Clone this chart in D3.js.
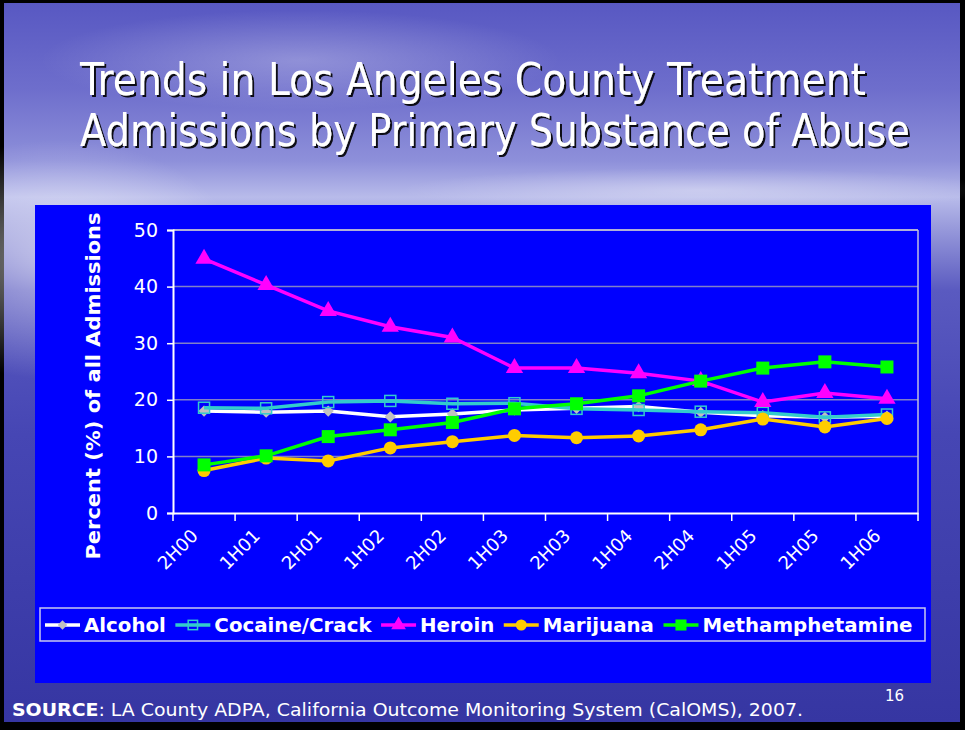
<!DOCTYPE html>
<html><head><meta charset="utf-8">
<script src="https://cdn.jsdelivr.net/npm/d3@7"></script>
<style>body{margin:0;padding:0;overflow:hidden;background:#000}</style>
</head><body>
<svg id="c" width="965" height="730"></svg>
<script>
const categories = ["2H00","1H01","2H01","1H02","2H02","1H03","2H03","1H04","2H04","1H05","2H05","1H06"];
const alcohol    = [18.0,17.8,18.0,17.0,17.5,18.2,18.5,18.8,17.8,17.2,16.9,17.1];
const cocaine    = [18.6,18.5,19.6,19.8,19.3,19.4,18.4,18.2,17.9,17.7,16.9,17.4];
const heroin     = [44.9,40.3,35.7,32.9,31.0,25.6,25.6,24.7,23.3,19.6,21.2,20.2];
const marijuana  = [7.5,9.7,9.2,11.5,12.6,13.7,13.3,13.6,14.7,16.6,15.2,16.7];
const meth       = [8.5,10.1,13.5,14.7,16.0,18.4,19.3,20.7,23.3,25.6,26.7,25.8];
const seriesNames = ["Alcohol","Cocaine/Crack","Heroin","Marijuana","Methamphetamine"];
const yTicks = [0,10,20,30,40,50];
const titleLines = ["Trends in Los Angeles County Treatment","Admissions by Primary Substance of Abuse"];

const series = [
  {name:seriesNames[0], values:alcohol,   line:"#ffffff", marker:"diamond", fill:"#c0c0c0", stroke:"#c0c0c0"},
  {name:seriesNames[1], values:cocaine,   line:"#33cccc", marker:"square", fill:"none", stroke:"#33cccc"},
  {name:seriesNames[2], values:heroin,    line:"#ff00ff", marker:"triangle", fill:"#ff00ff", stroke:"#ff00ff"},
  {name:seriesNames[3], values:marijuana, line:"#ffcc00", marker:"circle", fill:"#ffcc00", stroke:"#ffcc00"},
  {name:seriesNames[4], values:meth,      line:"#00ff00", marker:"square", fill:"#00ff00", stroke:"#00ff00"}
];

const FONT = "'DejaVu Sans',Verdana,sans-serif";
const svg = d3.select("#c");
const defs = svg.append("defs");
const bg = defs.append("linearGradient").attr("id","bg").attr("x1",0).attr("y1",0).attr("x2",0).attr("y2",1);
[[0,"#5858c2"],[0.12,"#6e6ecc"],[0.22,"#8e90da"],[0.27,"#b8bbea"],[0.31,"#9a9cdc"],[0.4,"#5a5ac0"],[0.6,"#4646b4"],[1,"#3636a2"]]
  .forEach(([o,c])=>bg.append("stop").attr("offset",o).attr("stop-color",c));
const rg = defs.append("radialGradient").attr("id","glow").attr("cx",0.5).attr("cy",0.5).attr("r",0.5);
rg.append("stop").attr("offset",0).attr("stop-color","#ffffff").attr("stop-opacity",0.55);
rg.append("stop").attr("offset",1).attr("stop-color","#ffffff").attr("stop-opacity",0);
const sh = defs.append("filter").attr("id","shadow").attr("x","-5%").attr("y","-20%").attr("width","110%").attr("height","140%");
sh.append("feDropShadow").attr("dx",2).attr("dy",2).attr("stdDeviation",0.3).attr("flood-color","#000").attr("flood-opacity",0.9);

svg.append("rect").attr("width",965).attr("height",730).attr("fill","#000");
svg.append("rect").attr("x",4).attr("y",3).attr("width",956).attr("height",719).attr("fill","url(#bg)");
svg.append("ellipse").attr("cx",60).attr("cy",260).attr("rx",180).attr("ry",120).attr("fill","url(#glow)");
svg.append("ellipse").attr("cx",300).attr("cy",60).attr("rx",260).attr("ry",50).attr("fill","url(#glow)").attr("opacity",0.5);
svg.append("ellipse").attr("cx",700).attr("cy",190).attr("rx",300).attr("ry",22).attr("fill","url(#glow)").attr("opacity",0.6);

// Title
const tg = svg.append("g").attr("filter","url(#shadow)");
tg.append("text").attr("x",80).attr("y",95).attr("textLength",786).attr("lengthAdjust","spacingAndGlyphs")
  .attr("font-family","'DejaVu Sans Condensed','DejaVu Sans',sans-serif").attr("font-size",44).attr("fill","#fff").text(titleLines[0]);
tg.append("text").attr("x",80).attr("y",146).attr("textLength",830).attr("lengthAdjust","spacingAndGlyphs")
  .attr("font-family","'DejaVu Sans Condensed','DejaVu Sans',sans-serif").attr("font-size",44).attr("fill","#fff").text(titleLines[1]);

// Chart panel
svg.append("rect").attr("x",35).attr("y",205).attr("width",896).attr("height",478).attr("fill","#0000ff");

const L=173, R=918, T=230, B=513;
const x = d3.scaleBand().domain(categories).range([L,R]);
const y = d3.scaleLinear().domain([0,50]).range([B,T]);

// gridlines
svg.append("g").selectAll("line").data(yTicks.filter(d=>d>0)).join("line")
  .attr("x1",L).attr("x2",R).attr("y1",d=>y(d)).attr("y2",d=>y(d))
  .attr("stroke",d=>d===50?"#b0b0d8":"#8080c8").attr("stroke-width",d=>d===50?2:1.5);
svg.append("line").attr("x1",R).attr("x2",R).attr("y1",T).attr("y2",B).attr("stroke","#c0c0e0").attr("stroke-width",1.5);

// y axis
const yAxis = svg.append("g").attr("transform",`translate(${L},0)`)
  .call(d3.axisLeft(y).tickValues(yTicks).tickSize(6).tickPadding(9));
yAxis.select(".domain").attr("stroke","#fff").attr("stroke-width",2);
yAxis.selectAll(".tick line").attr("stroke","#fff").attr("stroke-width",1.5);
yAxis.selectAll("text").attr("fill","#fff").attr("font-family",FONT).attr("font-size",19);

// x axis
const xAxis = svg.append("g").attr("transform",`translate(0,${B})`)
  .call(d3.axisBottom(x).tickSize(0).tickPadding(0));
xAxis.select(".domain").attr("stroke","#fff").attr("stroke-width",2);
xAxis.selectAll(".tick line").remove();
svg.append("g").selectAll("line").data(categories.concat(["__end"])).join("line")
  .attr("x1",(d,i)=>L+i*x.bandwidth()).attr("x2",(d,i)=>L+i*x.bandwidth())
  .attr("y1",B).attr("y2",B+8).attr("stroke","#fff").attr("stroke-width",1.5);
xAxis.selectAll(".tick text").attr("fill","#fff").attr("font-family",FONT).attr("font-size",18)
  .attr("text-anchor","end").attr("dy",0).attr("transform","translate(-5,24) rotate(-45)");

// axis title
svg.append("text").attr("transform","translate(100,386) rotate(-90)").attr("text-anchor","middle")
  .attr("font-family",FONT).attr("font-weight","bold").attr("font-size",19).attr("fill","#fff")
  .attr("textLength",347).attr("lengthAdjust","spacingAndGlyphs")
  .text("Percent (%) of all Admissions");

function marker(g, type, cx, cy, s, scale){
  const k = scale||1;
  if(type==="diamond") return g.append("path").attr("d",d3.symbol(d3.symbolDiamond2, 80*k*k)()).attr("transform",`translate(${cx},${cy})`).attr("fill",s.fill);
  if(type==="square"){
    const a = (s.fill==="none"?11:13)*k;
    return g.append("rect").attr("x",cx-a/2).attr("y",cy-a/2).attr("width",a).attr("height",a)
      .attr("fill",s.fill).attr("stroke",s.fill==="none"?s.stroke:"none").attr("stroke-width",1.5);
  }
  if(type==="triangle") return g.append("path").attr("d",d3.symbol(d3.symbolTriangle, 130*k*k)()).attr("transform",`translate(${cx},${cy})`).attr("fill",s.fill);
  if(type==="circle") return g.append("circle").attr("cx",cx).attr("cy",cy).attr("r",6.5*k).attr("fill",s.fill);
}

const line = d3.line().x((d,i)=>x(categories[i])+x.bandwidth()/2).y(d=>y(d));
series.forEach(s=>{
  const g = svg.append("g");
  g.append("path").attr("d",line(s.values)).attr("fill","none").attr("stroke",s.line).attr("stroke-width",3.5);
  s.values.forEach((v,i)=>marker(g,s.marker,x(categories[i])+x.bandwidth()/2,y(v),s));
});

// legend
svg.append("rect").attr("x",40).attr("y",608).attr("width",885).attr("height",33).attr("fill","none").attr("stroke","#c8c8f0").attr("stroke-width",1.5);
let lx = 45;
series.forEach(s=>{
  const g = svg.append("g");
  g.append("line").attr("x1",lx).attr("x2",lx+35).attr("y1",625).attr("y2",625).attr("stroke",s.line).attr("stroke-width",3.5);
  marker(g,s.marker,lx+17.5,625,s,0.85);
  const t = g.append("text").attr("x",lx+39).attr("y",632).attr("font-family",FONT)
    .attr("font-weight","bold").attr("font-size",19.8).attr("fill","#fff").text(s.name);
  lx += 39 + t.node().getComputedTextLength() + 9.5;
});

// source
const src = svg.append("text").attr("x",12).attr("y",716).attr("font-family",FONT).attr("font-size",17).attr("fill","#fff")
  .attr("textLength",791).attr("lengthAdjust","spacingAndGlyphs");
src.append("tspan").attr("font-weight","bold").text("SOURCE");
src.append("tspan").text(": LA County ADPA, California Outcome Monitoring System (CalOMS), 2007.");
svg.append("text").attr("x",885).attr("y",701).attr("font-family",FONT).attr("font-size",15).attr("fill","#fff").text("16");
</script>
</body></html>
